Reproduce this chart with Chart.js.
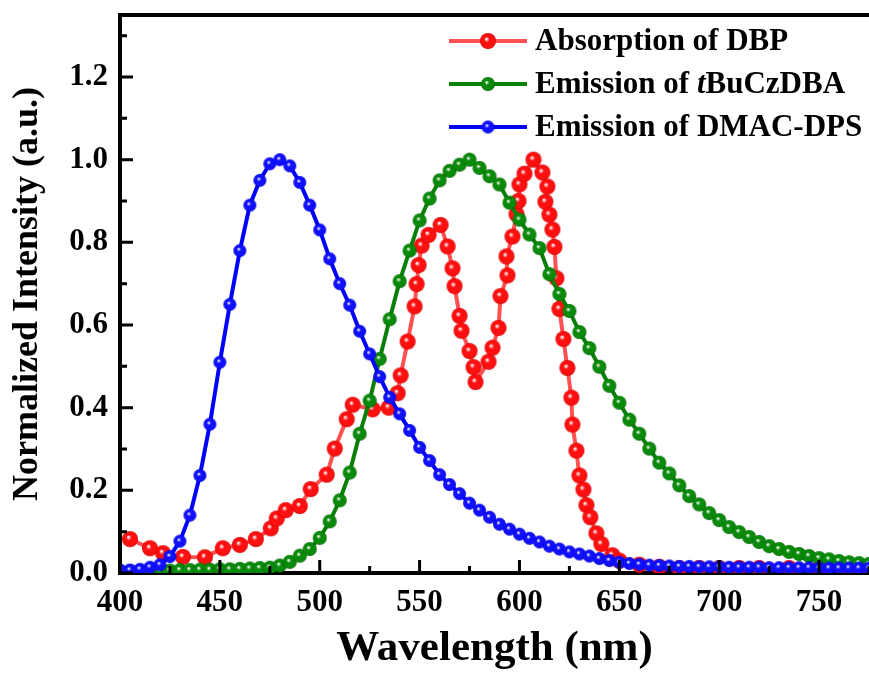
<!DOCTYPE html>
<html>
<head>
<meta charset="utf-8">
<script src="https://cdn.jsdelivr.net/npm/chart.js@4"></script>
<style>
  body { margin: 0; background: #fff; }
  canvas { display: block; }
</style>
</head>
<body>
<canvas id="spectraChart" width="869" height="675"></canvas>
<script>
// shared 5 nm wavelength grid used by both emission spectra
const gridWl = [400, 405, 410, 415, 420, 425, 430, 435, 440, 445, 450, 455, 460, 465, 470, 475,
    480, 485, 490, 495, 500, 505, 510, 515, 520, 525, 530, 535, 540, 545, 550, 555,
    560, 565, 570, 575, 580, 585, 590, 595, 600, 605, 610, 615, 620, 625, 630, 635,
    640, 645, 650, 655, 660, 665, 670, 675, 680, 685, 690, 695, 700, 705, 710, 715,
    720, 725, 730, 735, 740, 745, 750, 755, 760, 765, 770, 775];

// Emission of DMAC-DPS (blue)
const emDmac = [0.007, 0.007, 0.009, 0.014, 0.02, 0.04, 0.077, 0.14, 0.236, 0.36, 0.51, 0.65, 0.78, 0.89, 0.95, 0.99,
    1.0, 0.985, 0.945, 0.89, 0.83, 0.76, 0.70, 0.648, 0.585, 0.53, 0.475, 0.425, 0.385, 0.345, 0.304, 0.272,
    0.238, 0.214, 0.192, 0.169, 0.152, 0.135, 0.118, 0.106, 0.094, 0.084, 0.075, 0.065, 0.058, 0.051, 0.046, 0.041,
    0.035, 0.030, 0.026, 0.023, 0.021, 0.019, 0.018, 0.017, 0.016, 0.016, 0.015, 0.015, 0.015, 0.014, 0.014, 0.014,
    0.014, 0.013, 0.013, 0.013, 0.013, 0.013, 0.012, 0.012, 0.012, 0.012, 0.012, 0.012];

// Emission of tBuCzDBA (green)
const emTbu = [0.005, 0.005, 0.005, 0.005, 0.005, 0.006, 0.007, 0.007, 0.008, 0.008, 0.009, 0.009, 0.010, 0.011, 0.012, 0.013,
    0.018, 0.027, 0.042, 0.058, 0.085, 0.125, 0.176, 0.243, 0.337, 0.417, 0.518, 0.614, 0.706, 0.78, 0.853, 0.906,
    0.95, 0.973, 0.988, 1.0, 0.98, 0.96, 0.94, 0.896, 0.855, 0.819, 0.786, 0.723, 0.675, 0.634, 0.583, 0.544,
    0.499, 0.453, 0.412, 0.371, 0.337, 0.301, 0.267, 0.241, 0.212, 0.186, 0.166, 0.145, 0.128, 0.111, 0.099, 0.087,
    0.075, 0.065, 0.058, 0.051, 0.046, 0.041, 0.036, 0.033, 0.029, 0.026, 0.024, 0.022];

// Absorption of DBP (red), sampled unevenly
const absWl = [405, 415, 421.5, 431.5, 442.5, 451.5, 460, 468, 475.5, 478.5, 483, 490, 495.5, 503.5, 507.5, 513.5,
    516.5, 526.5, 534.5, 539, 540.5, 544, 547.5, 548.5, 549.5, 551, 554.5, 560.5, 564, 566.5, 567.5, 570,
    571, 575, 577, 578, 584.5, 586.5, 589.5, 590.5, 594, 593.5, 596.5, 598.5, 599.5, 600, 602.5, 607,
    611.5, 614, 613, 615, 616.5, 617.5, 618.5, 620, 622, 624, 626, 626.5, 628.5, 630, 632, 633.5,
    635.5, 638.5, 641, 646.5, 650, 660, 670, 680, 690, 700, 710, 720, 735, 750, 765, 775];
const absDbp = [0.082, 0.06, 0.048, 0.039, 0.038, 0.06, 0.068, 0.082, 0.108, 0.132, 0.152, 0.162, 0.203, 0.238, 0.301, 0.372,
    0.407, 0.396, 0.40, 0.435, 0.478, 0.56, 0.645, 0.699, 0.745, 0.792, 0.818, 0.842, 0.79, 0.737, 0.694, 0.622,
    0.586, 0.537, 0.498, 0.462, 0.511, 0.545, 0.593, 0.67, 0.72, 0.766, 0.814, 0.868, 0.9, 0.94, 0.966, 1.0,
    0.969, 0.935, 0.898, 0.867, 0.831, 0.789, 0.713, 0.639, 0.566, 0.496, 0.424, 0.359, 0.296, 0.236, 0.202, 0.164,
    0.135, 0.096, 0.07, 0.043, 0.03, 0.02, 0.015, 0.012, 0.012, 0.012, 0.012, 0.012, 0.012, 0.01, 0.01, 0.01];

const seriesNames = ['Absorption of DBP', 'Emission of tBuCzDBA', 'Emission of DMAC-DPS'];

const xTicks = [400, 450, 500, 550, 600, 650, 700, 750];
const xMinor = [425, 475, 525, 575, 625, 675, 725, 775];
const yTicks = [0, 0.2, 0.4, 0.6, 0.8, 1.0, 1.2];
const yMinor = [0.1, 0.3, 0.5, 0.7, 0.9, 1.1, 1.3];

const serif = "'Liberation Serif', 'Times New Roman', serif";

// little shaded ball used as point marker
function makeBall(color, dark, r) {
    const c = document.createElement('canvas');
    const s = Math.ceil(r * 2 + 2);
    c.width = s; c.height = s;
    const g = c.getContext('2d');
    const cx = s / 2, cy = s / 2;
    const grad = g.createRadialGradient(cx - r * 0.2, cy - r * 0.25, r * 0.05, cx, cy, r);
    grad.addColorStop(0, '#ffffff');
    grad.addColorStop(0.3, color);
    grad.addColorStop(0.85, color);
    grad.addColorStop(1, dark);
    g.fillStyle = grad;
    g.beginPath();
    g.arc(cx, cy, r, 0, Math.PI * 2);
    g.fill();
    return c;
}

const redBall = makeBall('#ff1010', '#d00000', 8);
const greenBall = makeBall('#0a8a0a', '#006000', 7);
const blueBall = makeBall('#1010ff', '#0000c0', 6.5);

function pairs(xs, ys) {
    return xs.map((x, i) => ({ x: x, y: ys[i] }));
}

// inward ticks, top frame and the hand-made legend
const framePlugin = {
    id: 'frame',
    afterDatasetsDraw(chart) {
        const { ctx, chartArea: a, scales } = chart;
        ctx.save();
        ctx.strokeStyle = '#000';
        ctx.lineWidth = 4;
        ctx.beginPath();
        ctx.moveTo(a.left - 2, a.top);
        ctx.lineTo(a.right, a.top);
        ctx.stroke();
        ctx.lineWidth = 3;
        ctx.beginPath();
        xTicks.forEach(v => { const p = scales.x.getPixelForValue(v); ctx.moveTo(p, a.bottom); ctx.lineTo(p, a.bottom - 13); });
        xMinor.forEach(v => { const p = scales.x.getPixelForValue(v); ctx.moveTo(p, a.bottom); ctx.lineTo(p, a.bottom - 7); });
        yTicks.forEach(v => { const p = scales.y.getPixelForValue(v); ctx.moveTo(a.left, p); ctx.lineTo(a.left + 13, p); });
        yMinor.forEach(v => { const p = scales.y.getPixelForValue(v); ctx.moveTo(a.left, p); ctx.lineTo(a.left + 7, p); });
        ctx.stroke();
        ctx.restore();
    },
    afterDraw(chart) {
        const ctx = chart.ctx;
        const rows = [
            { y: 41, line: 'rgba(255,50,50,0.85)', ball: redBall, parts: [['Absorption of DBP', false]] },
            { y: 84, line: '#0a800a', ball: greenBall, parts: [['Emission of ', false], ['t', true], ['BuCzDBA', false]] },
            { y: 127, line: '#0000ff', ball: blueBall, parts: [['Emission of DMAC-DPS', false]] }
        ];
        ctx.save();
        rows.forEach(r => {
            ctx.strokeStyle = r.line;
            ctx.lineWidth = 4;
            ctx.beginPath();
            ctx.moveTo(449, r.y);
            ctx.lineTo(527, r.y);
            ctx.stroke();
            ctx.drawImage(r.ball, 488 - r.ball.width / 2, r.y - r.ball.height / 2);
            let x = 535;
            ctx.fillStyle = '#000';
            ctx.textBaseline = 'middle';
            ctx.textAlign = 'left';
            r.parts.forEach(([txt, it]) => {
                ctx.font = (it ? 'italic ' : '') + 'bold 31px ' + serif;
                ctx.fillText(txt, x, r.y + 1);
                x += ctx.measureText(txt).width;
            });
        });
        ctx.restore();
    }
};

const ctx = document.getElementById('spectraChart').getContext('2d');

new Chart(ctx, {
    type: 'scatter',
    data: {
        datasets: [{
            label: seriesNames[0],
            data: pairs(absWl, absDbp),
            showLine: true,
            borderColor: 'rgba(255,50,50,0.85)',
            borderWidth: 4,
            pointStyle: redBall,
            pointRadius: 8,
            order: 3
        }, {
            label: seriesNames[1],
            data: pairs(gridWl, emTbu),
            showLine: true,
            borderColor: '#0a800a',
            borderWidth: 4,
            pointStyle: greenBall,
            pointRadius: 7,
            order: 2
        }, {
            label: seriesNames[2],
            data: pairs(gridWl, emDmac),
            showLine: true,
            borderColor: '#0000ff',
            borderWidth: 4,
            pointStyle: blueBall,
            pointRadius: 6.5,
            order: 1
        }]
    },
    options: {
        responsive: false,
        animation: false,
        layout: { autoPadding: false, padding: { top: 15, right: 0, left: 0, bottom: 0 } },
        plugins: {
            legend: { display: false },
            tooltip: { enabled: false }
        },
        scales: {
            x: {
                type: 'linear',
                min: 400,
                max: 775,
                afterBuildTicks: s => { s.ticks = xTicks.map(v => ({ value: v })); },
                afterFit: s => { s.height = 102; s.paddingLeft = 0; s.paddingRight = 0; },
                grid: { display: false, drawTicks: false },
                border: { display: true, width: 4, color: '#000' },
                ticks: {
                    color: '#000',
                    padding: 11,
                    maxRotation: 0,
                    font: { family: serif, size: 31, weight: 'bold' },
                    callback: v => String(v)
                },
                title: {
                    display: true,
                    text: 'Wavelength (nm)',
                    color: '#000',
                    padding: { top: 0, bottom: 0 },
                    font: { family: serif, size: 43, weight: 'bold' }
                }
            },
            y: {
                min: 0,
                max: 1.35,
                afterBuildTicks: s => { s.ticks = yTicks.map(v => ({ value: v })); },
                afterFit: s => { s.width = 120; s.paddingTop = 0; s.paddingBottom = 0; },
                grid: { display: false, drawTicks: false },
                border: { display: true, width: 4, color: '#000' },
                ticks: {
                    color: '#000',
                    padding: 12,
                    font: { family: serif, size: 31, weight: 'bold' },
                    callback: v => v.toFixed(1)
                },
                title: {
                    display: true,
                    text: 'Normalized Intensity (a.u.)',
                    color: '#000',
                    padding: { top: 6, bottom: 0 },
                    font: { family: serif, size: 36, weight: 'bold' }
                }
            }
        }
    },
    plugins: [framePlugin]
});
</script>
</body>
</html>
